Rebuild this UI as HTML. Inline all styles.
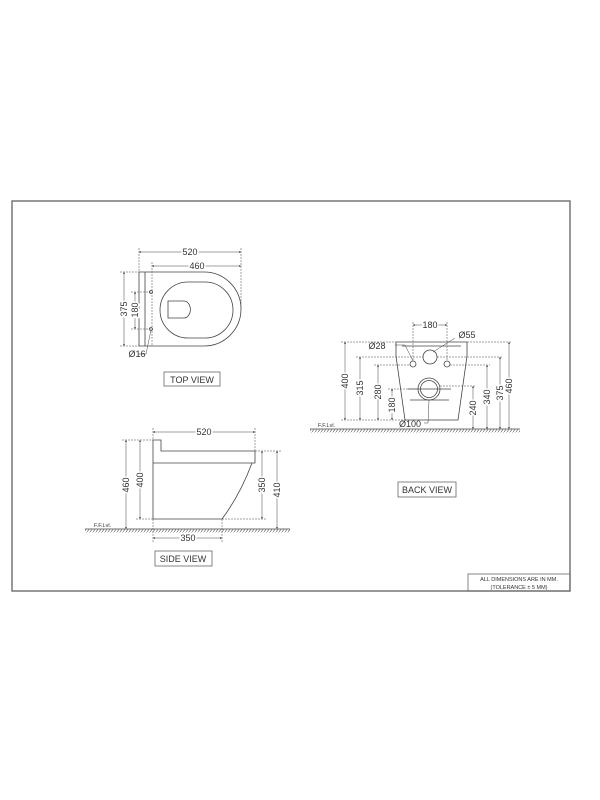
<!DOCTYPE html>
<html><head><meta charset="utf-8"><style>
html,body{margin:0;padding:0;background:#fff}
svg{display:block}
text{font-family:"Liberation Sans",sans-serif;fill:#333}
</style></head><body>
<svg width="600" height="800" viewBox="0 0 600 800" xmlns="http://www.w3.org/2000/svg">
<defs>
<marker id="a" viewBox="0 0 6 6" refX="6" refY="3" markerWidth="4" markerHeight="4" orient="auto-start-reverse"><path d="M0,0L6,3L0,6z" fill="#444"/></marker>
<pattern id="h" width="3" height="4" patternUnits="userSpaceOnUse"><path d="M3,0L0,4" stroke="#555" stroke-width="0.6"/></pattern>
</defs>
<!-- border -->
<path d="M12,591V201H570V591Z" fill="none" stroke="#777" stroke-width="1.5"/>
<g fill="none" stroke="#444" stroke-width="0.8">
<!-- TOP VIEW -->
<path d="M139,272H204A37,37 0 0 1 204,346H139Z"/>
<line x1="145" y1="272" x2="145" y2="346"/>
<rect x="160" y="282" width="73" height="56" rx="28"/>
<path d="M168,301H184A6,8 0 0 1 184,318H168Z"/>
<circle cx="151" cy="292" r="1.5"/><circle cx="151" cy="329" r="1.5"/>
<g stroke-width="0.5" stroke-dasharray="2,1">
<line x1="139" y1="248" x2="139" y2="272"/><line x1="241" y1="248" x2="241" y2="309"/>
<line x1="152" y1="262" x2="152" y2="346"/>
<line x1="120" y1="272" x2="139" y2="272"/><line x1="120" y1="346" x2="139" y2="346"/>
<line x1="131" y1="292" x2="151" y2="292"/><line x1="131" y1="329" x2="151" y2="329"/>
</g>
<g stroke-width="0.5">
<line x1="139" y1="252" x2="241" y2="252" marker-start="url(#a)" marker-end="url(#a)"/>
<line x1="152" y1="266" x2="241" y2="266" marker-start="url(#a)" marker-end="url(#a)"/>
<line x1="124" y1="272" x2="124" y2="346" marker-start="url(#a)" marker-end="url(#a)"/>
<line x1="135" y1="292" x2="135" y2="329" marker-start="url(#a)" marker-end="url(#a)"/>
<path d="M151,330L146,354H138"/>
</g>
<rect x="164" y="372" width="56" height="14" stroke="#666"/>
<!-- BACK VIEW -->
<path d="M396,342H467V356L458,420H405L396,356Z"/>
<path d="M402,346H461"/>
<circle cx="430" cy="357" r="7"/>
<circle cx="413" cy="364" r="3"/><circle cx="447" cy="364" r="3"/>
<circle cx="429" cy="389" r="11"/><circle cx="429" cy="389" r="8.5"/>
<path d="M408,389H451M410,400H449"/>
<g stroke-width="0.5" stroke-dasharray="2,1">
<line x1="341" y1="342" x2="396" y2="342"/><line x1="467" y1="342" x2="512" y2="342"/>
<line x1="356" y1="357" x2="423" y2="357"/><line x1="437" y1="357" x2="503" y2="357"/>
<line x1="374" y1="365" x2="410" y2="365"/><line x1="450" y1="365" x2="490" y2="365"/>
<line x1="388" y1="389" x2="418" y2="389"/><line x1="440" y1="386" x2="476" y2="386"/>
<line x1="341" y1="420" x2="405" y2="420"/>
<line x1="413" y1="322" x2="413" y2="361"/><line x1="447" y1="322" x2="447" y2="361"/>
</g>
<g stroke-width="0.5">
<line x1="345" y1="342" x2="345" y2="420" marker-start="url(#a)" marker-end="url(#a)"/>
<line x1="360" y1="357" x2="360" y2="420" marker-start="url(#a)" marker-end="url(#a)"/>
<line x1="378" y1="365" x2="378" y2="420" marker-start="url(#a)" marker-end="url(#a)"/>
<line x1="392" y1="389" x2="392" y2="420" marker-start="url(#a)" marker-end="url(#a)"/>
<line x1="473" y1="386" x2="473" y2="429" marker-start="url(#a)" marker-end="url(#a)"/>
<line x1="487" y1="365" x2="487" y2="429" marker-start="url(#a)" marker-end="url(#a)"/>
<line x1="500" y1="357" x2="500" y2="429" marker-start="url(#a)" marker-end="url(#a)"/>
<line x1="509" y1="342" x2="509" y2="429" marker-start="url(#a)" marker-end="url(#a)"/>
<line x1="413" y1="325" x2="447" y2="325" marker-start="url(#a)" marker-end="url(#a)"/>
<path d="M395,345H405L413,361"/><path d="M455,338L433,352"/><path d="M424,423H428L429,400"/>
</g>
<line x1="310" y1="429" x2="520" y2="429" stroke="#444"/>
<!-- SIDE VIEW -->
<path d="M153,440H161V451H255V463L252,463Q240,495 222,519H153Z"/>
<line x1="153" y1="463" x2="252" y2="463"/>
<g stroke-width="0.5" stroke-dasharray="2,1">
<line x1="122" y1="440" x2="153" y2="440"/><line x1="136" y1="519" x2="153" y2="519"/>
<line x1="255" y1="451" x2="281" y2="451"/><line x1="222" y1="519" x2="266" y2="519"/>
<line x1="153" y1="428" x2="153" y2="440"/><line x1="255" y1="428" x2="255" y2="451"/>
<line x1="153" y1="519" x2="153" y2="542"/><line x1="222" y1="519" x2="222" y2="542"/>
</g>
<g stroke-width="0.5">
<line x1="153" y1="432" x2="255" y2="432" marker-start="url(#a)" marker-end="url(#a)"/>
<line x1="126" y1="440" x2="126" y2="529" marker-start="url(#a)" marker-end="url(#a)"/>
<line x1="140" y1="440" x2="140" y2="519" marker-start="url(#a)" marker-end="url(#a)"/>
<line x1="262" y1="451" x2="262" y2="519" marker-start="url(#a)" marker-end="url(#a)"/>
<line x1="277" y1="451" x2="277" y2="529" marker-start="url(#a)" marker-end="url(#a)"/>
<line x1="153" y1="538" x2="222" y2="538" marker-start="url(#a)" marker-end="url(#a)"/>
</g>
<line x1="85" y1="529" x2="290" y2="529" stroke="#444"/>
<rect x="155" y="551" width="57" height="15" stroke="#666"/>
<rect x="398" y="482" width="58" height="15" stroke="#666"/>
<rect x="468" y="574" width="102" height="17" stroke="#666"/>
</g>
<rect x="85" y="529.5" width="205" height="3" fill="url(#h)"/>
<rect x="310" y="429.5" width="210" height="3" fill="url(#h)"/>
<g font-size="9" text-anchor="middle">
<text x="190" y="255" style="paint-order:stroke" stroke="#fff" stroke-width="3">520</text>
<text x="197" y="269" style="paint-order:stroke" stroke="#fff" stroke-width="3">460</text>
<text transform="translate(127,309) rotate(-90)" style="paint-order:stroke" stroke="#fff" stroke-width="3">375</text>
<text transform="translate(138,310) rotate(-90)" style="paint-order:stroke" stroke="#fff" stroke-width="3">180</text>
<text x="137" y="357">Ø16</text>
<text x="192" y="383">TOP VIEW</text>
<text x="430" y="328" style="paint-order:stroke" stroke="#fff" stroke-width="3">180</text>
<text x="467" y="338">Ø55</text>
<text x="377" y="349">Ø28</text>
<text x="410" y="427">Ø100</text>
<text transform="translate(348,381) rotate(-90)" style="paint-order:stroke" stroke="#fff" stroke-width="3">400</text>
<text transform="translate(363,388) rotate(-90)" style="paint-order:stroke" stroke="#fff" stroke-width="3">315</text>
<text transform="translate(381,392) rotate(-90)" style="paint-order:stroke" stroke="#fff" stroke-width="3">280</text>
<text transform="translate(395,405) rotate(-90)" style="paint-order:stroke" stroke="#fff" stroke-width="3">180</text>
<text transform="translate(476,408) rotate(-90)" style="paint-order:stroke" stroke="#fff" stroke-width="3">240</text>
<text transform="translate(490,397) rotate(-90)" style="paint-order:stroke" stroke="#fff" stroke-width="3">340</text>
<text transform="translate(503,393) rotate(-90)" style="paint-order:stroke" stroke="#fff" stroke-width="3">375</text>
<text transform="translate(512,386) rotate(-90)" style="paint-order:stroke" stroke="#fff" stroke-width="3">460</text>
<text x="427" y="493">BACK VIEW</text>
<text x="204" y="435" style="paint-order:stroke" stroke="#fff" stroke-width="3">520</text>
<text transform="translate(129,485) rotate(-90)" style="paint-order:stroke" stroke="#fff" stroke-width="3">460</text>
<text transform="translate(143,480) rotate(-90)" style="paint-order:stroke" stroke="#fff" stroke-width="3">400</text>
<text transform="translate(265,485) rotate(-90)" style="paint-order:stroke" stroke="#fff" stroke-width="3">350</text>
<text transform="translate(280,490) rotate(-90)" style="paint-order:stroke" stroke="#fff" stroke-width="3">410</text>
<text x="188" y="541" style="paint-order:stroke" stroke="#fff" stroke-width="3">350</text>
<text x="183" y="562">SIDE VIEW</text>
</g>
<g font-size="5.5">
<text x="94" y="527">F.F.Lvl.</text>
<text x="318" y="427">F.F.Lvl.</text>
<text x="519" y="581" text-anchor="middle">ALL DIMENSIONS ARE IN MM.</text>
<text x="519" y="589" text-anchor="middle">(TOLERANCE ± 5 MM)</text>
</g>
</svg>
</body></html>
